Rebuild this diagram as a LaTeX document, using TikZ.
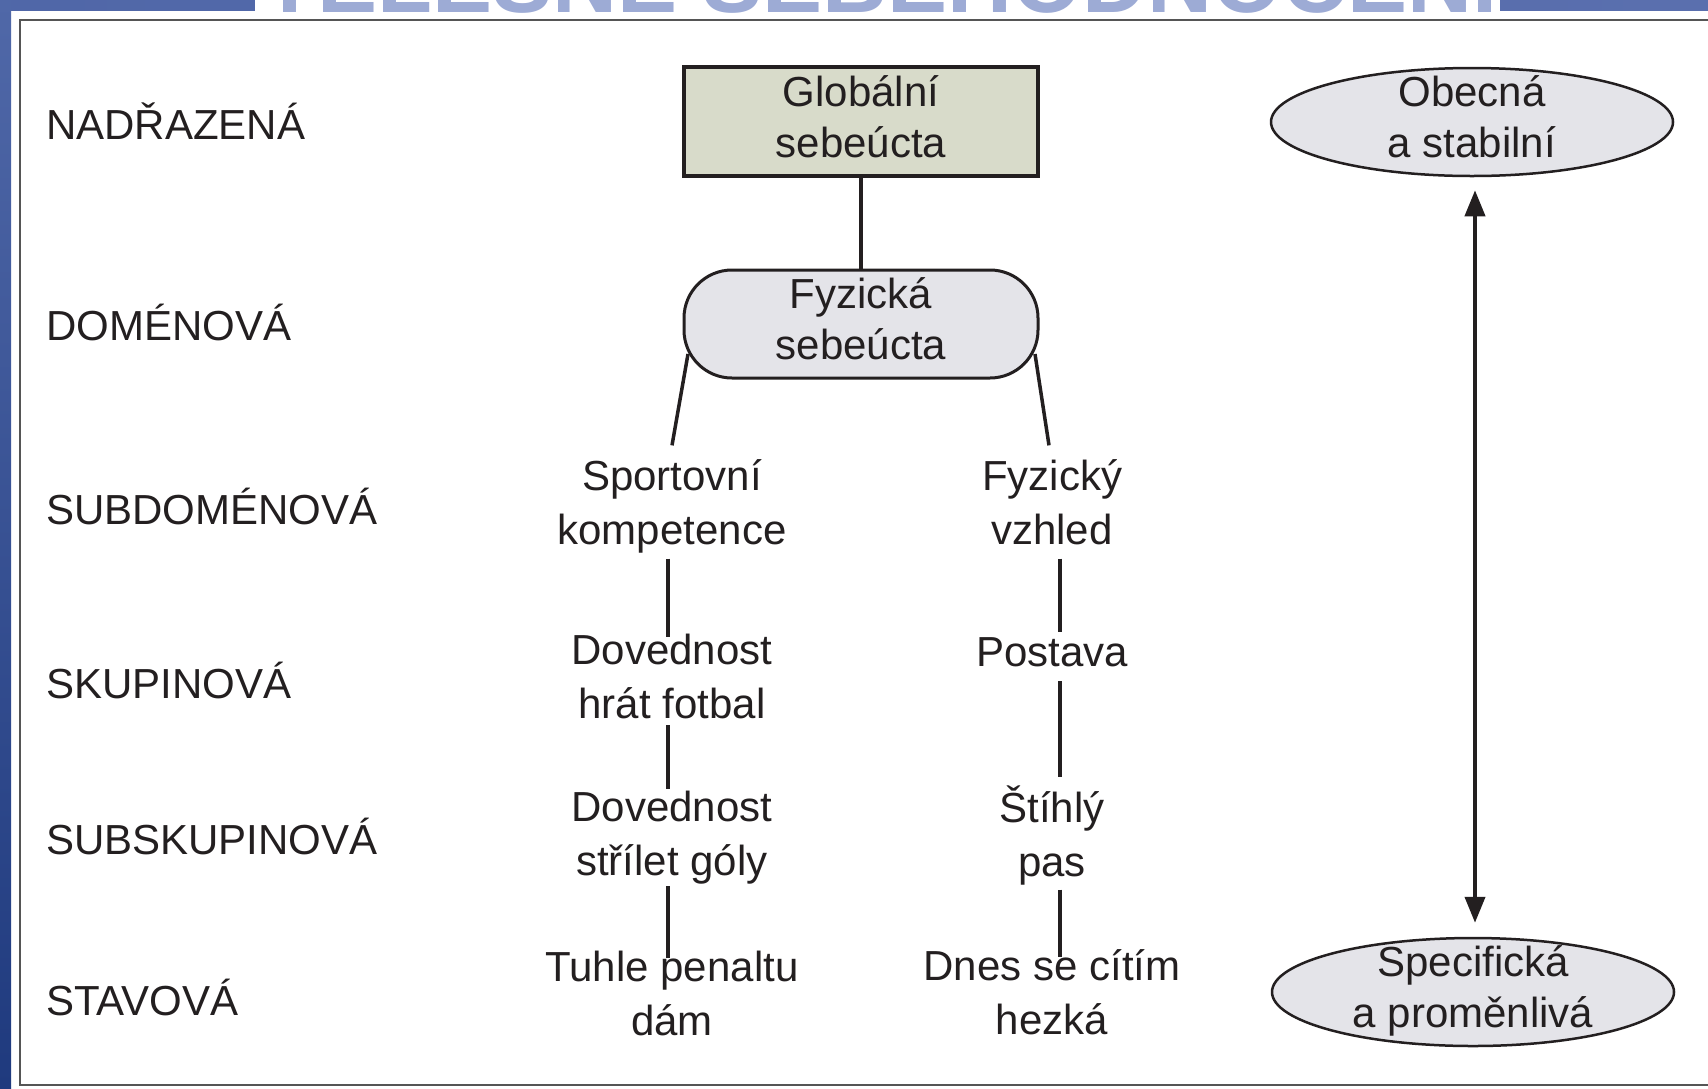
\documentclass[tikz,border=0pt]{standalone}
\usepackage{fontspec}
\setmainfont{Liberation Sans}
\usetikzlibrary{shapes.geometric,arrows.meta}
\definecolor{ink}{HTML}{231F20}
\definecolor{framegray}{HTML}{555555}
\definecolor{globfill}{HTML}{D8DBCA}
\definecolor{softgray}{HTML}{E4E4E9}
\definecolor{bandL}{HTML}{5067A8}
\definecolor{bandM}{HTML}{A6B4DA}
\definecolor{bandR}{HTML}{5A6FAE}
\definecolor{stripTop}{HTML}{5068A8}
\definecolor{stripBot}{HTML}{1F3A7E}
\definecolor{titleblue}{HTML}{9DABD5}
% fixed line struts so every text block is centred on its cap-height middle
\newcommand\topstrut{\rule{0pt}{40pt}}
\newcommand\botstrut{\rule[-10pt]{0pt}{10pt}}

\begin{document}
\begin{tikzpicture}[x=1pt,y=-1pt,
  txt/.style={font=\fontsize{42pt}{51pt}\selectfont, text=ink, align=center, inner sep=0pt,
    execute at begin node=\topstrut, execute at end node=\botstrut},
  item/.style={txt, font=\fontsize{42pt}{54pt}\selectfont},
  level/.style={txt, anchor=west},
  globbox/.style={txt, rectangle, draw=ink, line width=4.5pt, fill=globfill,
    minimum width=354pt, minimum height=109pt},
  domainbox/.style={txt, rectangle, rounded corners=48pt, draw=ink, line width=3pt,
    fill=softgray, minimum width=354pt, minimum height=108pt},
  oval/.style={ellipse, draw=ink, line width=2.5pt, fill=softgray,
    minimum width=402pt, minimum height=108pt, inner sep=0pt},
  conn/.style={draw=ink, line width=3.5pt},
  scalearrow/.style={conn, line width=4pt,
    {Triangle[length=26pt,width=20pt]}-{Triangle[length=26pt,width=20pt]}}
]
\useasboundingbox (0,0) rectangle (1708,1088);
\fill[white] (0,0) rectangle (1708,1088);

% slide header band and side strip
\shade[left color=bandL, middle color=bandM, right color=bandR] (0,0) rectangle (1708,10);
\fill[white] (255,0) rectangle (1500,11);
\begin{scope}
  \clip (0,0) rectangle (1708,12);
  \node[font=\fontsize{90pt}{90pt}\selectfont\bfseries, text=titleblue, anchor=base,
        inner sep=0pt] (title) at (880,12) {TĚLESNÉ SEBEHODNOCENÍ};
\end{scope}
\shade[top color=stripTop, bottom color=stripBot] (0,0) rectangle (11,1088);

% figure frame
\draw[framegray, line width=2.5pt] (1712,20) -- (20,20) -- (20,1085) -- (1712,1085);

% hierarchy levels
\node[level] (l1) at (46,124)  {NADŘAZENÁ};
\node[level] (l2) at (46,325)  {DOMÉNOVÁ};
\node[level] (l3) at (46,509)  {SUBDOMÉNOVÁ};
\node[level] (l4) at (46,683)  {SKUPINOVÁ};
\node[level] (l5) at (46,839)  {SUBSKUPINOVÁ};
\node[level] (l6) at (46,1000) {STAVOVÁ};

% tree
\node[globbox]   (glob) at (861,121.5) {Globální\\sebeúcta};
\node[domainbox] (fyz)  at (861,324)   {Fyzická\\sebeúcta};

\node[item] (spo) at (672,507)  {Sportovní\\kompetence};
\node[item] (vzh) at (1052,507) {Fyzický\\vzhled};
\node[item] (fot) at (672,681)  {Dovednost\\hrát fotbal};
\node[item] (pos) at (1052,651) {Postava};
\node[item] (gol) at (672,838)  {Dovednost\\střílet góly};
\node[item] (pas) at (1052,836) {Štíhlý\\pas};
\node[item] (pen) at (672,998)  {Tuhle penaltu\\dám};
\node[item] (hez) at (1052,997) {Dnes se cítím\\hezká};

\draw[conn] (glob.south) -- (fyz.north);
\draw[conn] ([xshift=5.5pt,yshift=-30pt]fyz.west) -- ([yshift=14pt]spo.north);
\draw[conn] ([xshift=-4.5pt,yshift=-30pt]fyz.east) -- ([xshift=-3pt,yshift=14pt]vzh.north);

\draw[conn, shorten <=4pt,  shorten >=-3pt] ([xshift=-4pt]spo.south) -- ([xshift=-4pt]fot.north);
\draw[conn, shorten <=-3pt, shorten >=2pt]  ([xshift=-4pt]fot.south) -- ([xshift=-4pt]gol.north);
\draw[conn, shorten <=1pt,  shorten >=-7pt] ([xshift=-4pt]gol.south) -- ([xshift=-4pt]pen.north);

\draw[conn, shorten <=4pt, shorten >=-6pt] ([xshift=8pt]vzh.south) -- ([xshift=8pt]pos.north);
\draw[conn, shorten <=5pt, shorten >=8pt]  ([xshift=8pt]pos.south) -- ([xshift=8pt]pas.north);
\draw[conn, shorten <=3pt, shorten >=-8pt] ([xshift=8pt]pas.south) -- ([xshift=8pt]hez.north);

% generality scale
\node[oval] (gen)  at (1472,122) {};
\node[txt]  (gent) at (gen) {Obecná\\a stabilní};
\node[oval] (spec)  at (1473,992) {};
\node[txt]  (spect) at (spec) {Specifická\\a proměnlivá};
\draw[scalearrow, shorten <=13pt, shorten >=14pt] ([xshift=3pt]gen.south) -- ([xshift=2pt]spec.north);
\end{tikzpicture}
\end{document}
